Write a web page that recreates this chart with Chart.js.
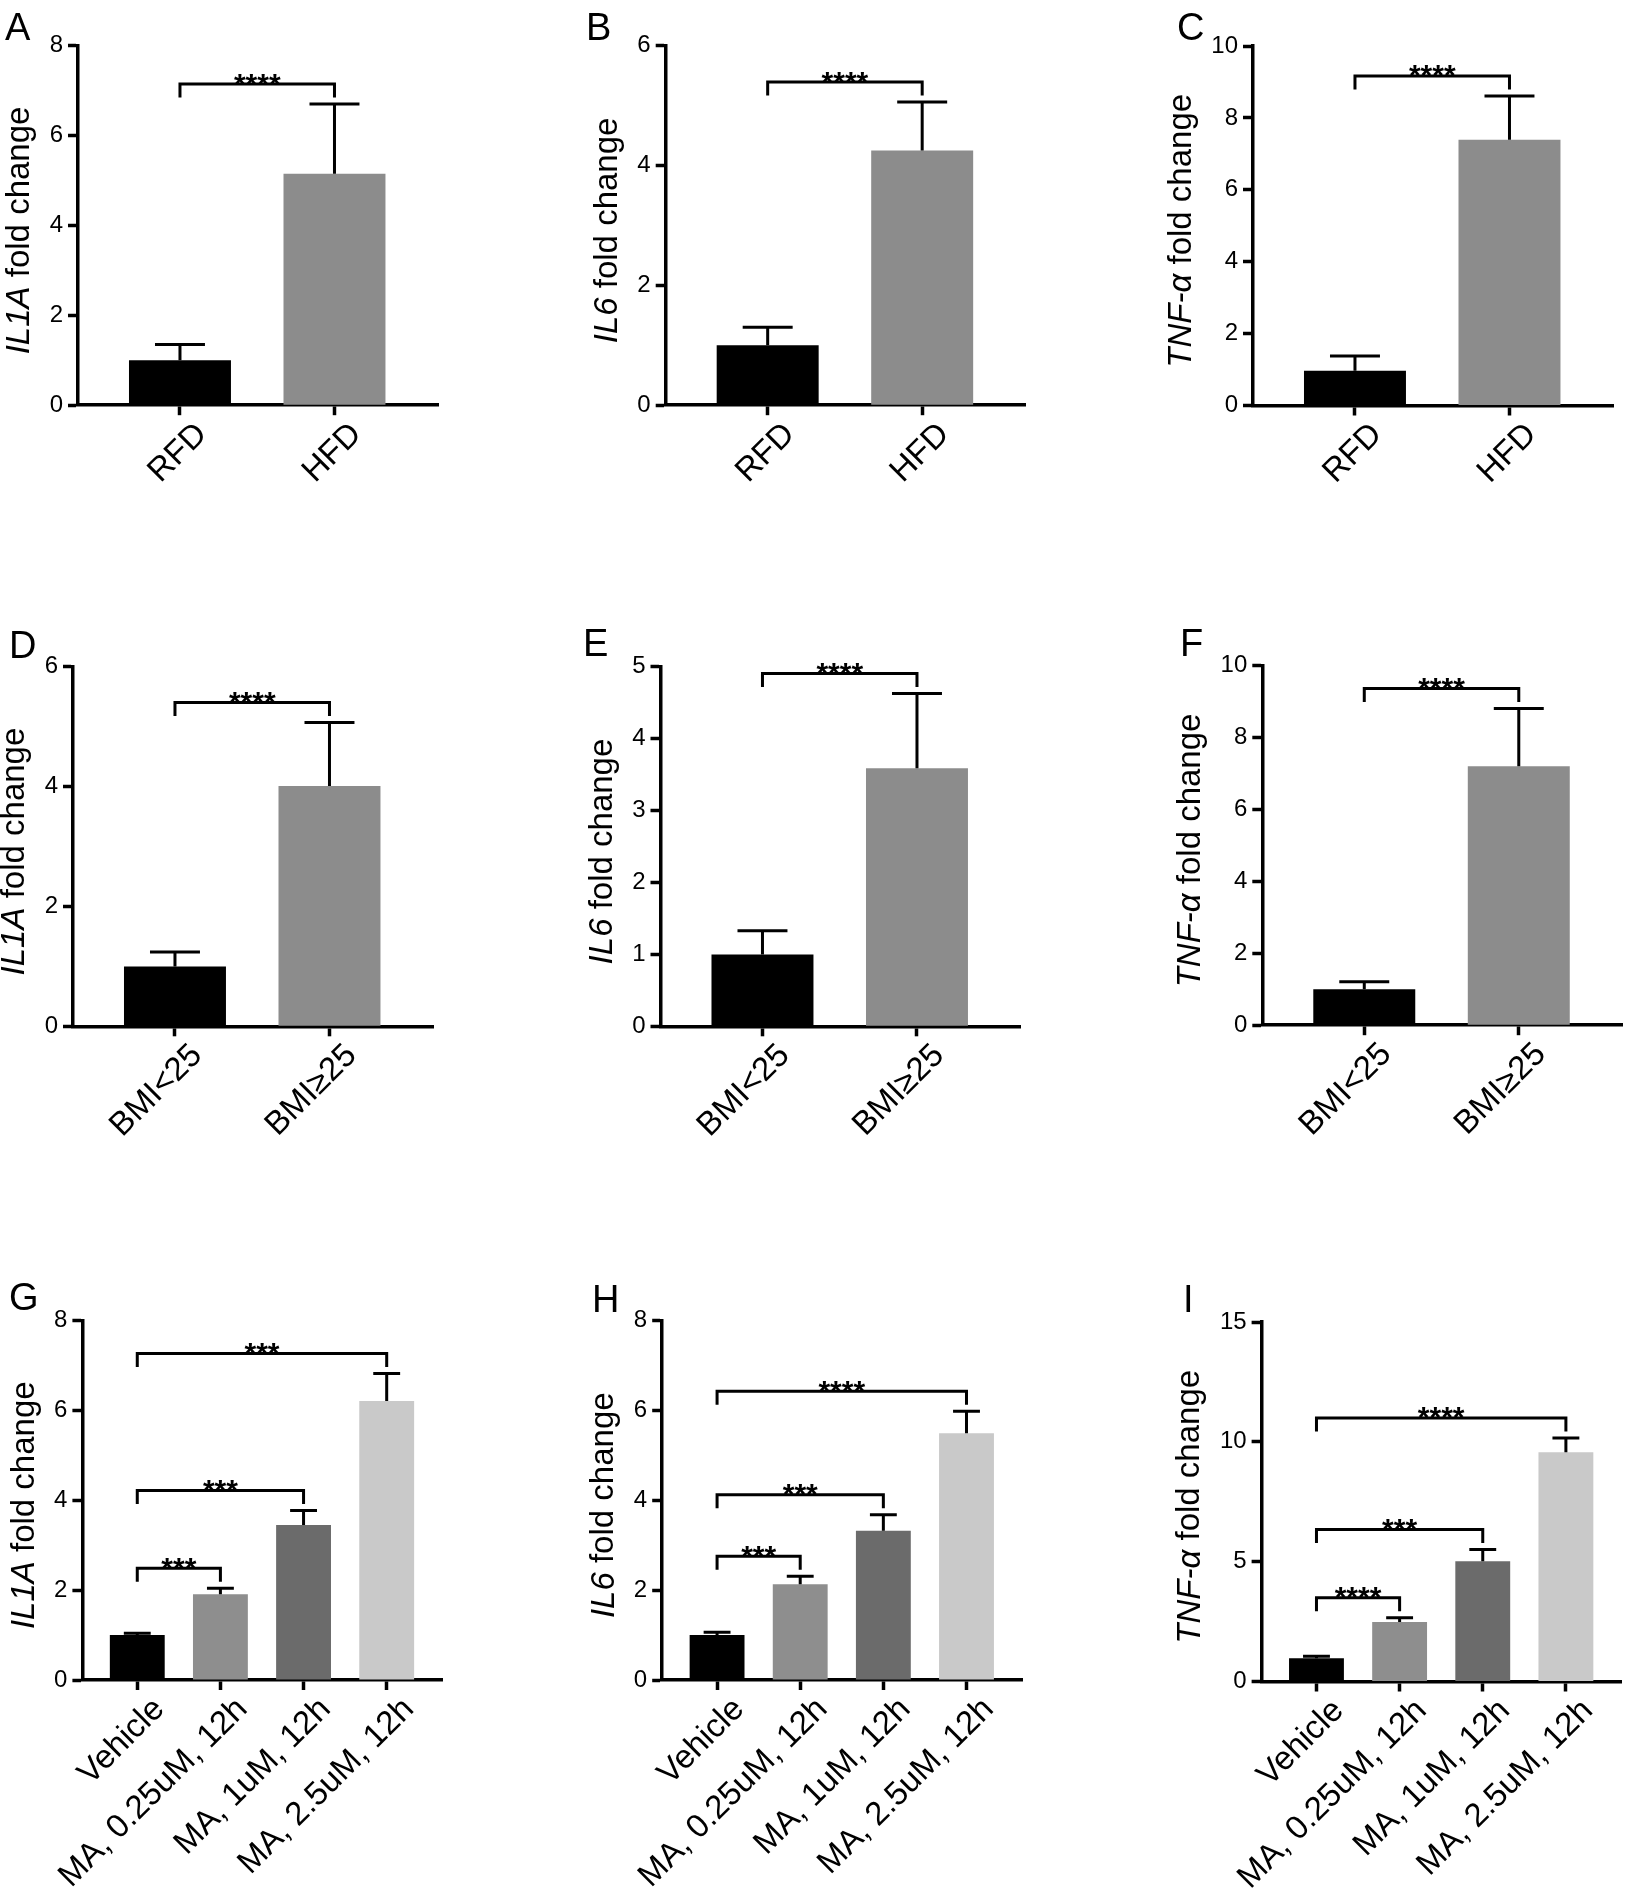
<!DOCTYPE html>
<html>
<head>
<meta charset="utf-8">
<script src="https://cdn.jsdelivr.net/npm/chart.js@4.4.1/dist/chart.umd.min.js"></script>
<style>
  html, body { margin: 0; padding: 0; background: #fff; }
  #wrap { position: relative; width: 1645px; height: 1892px; overflow: hidden; background: #fff; }
  #wrap canvas { position: absolute; }
</style>
</head>
<body>
<div id="wrap"></div>
<script>
// categories
const dietLabels = ['RFD', 'HFD'];
const bmiLabels = ['BMI<25', 'BMI\u226525'];
const maLabels = ['Vehicle', 'MA, 0.25uM, 12h', 'MA, 1uM, 12h', 'MA, 2.5uM, 12h'];

// means and upper error (SEM)
const il1aDiet = [1.0, 5.15];
const il1aDietErr = [0.35, 1.55];
const il6Diet = [1.0, 4.25];
const il6DietErr = [0.30, 0.81];
const tnfDiet = [0.97, 7.39];
const tnfDietErr = [0.41, 1.22];

const il1aBmi = [1.0, 4.01];
const il1aBmiErr = [0.24, 1.06];
const il6Bmi = [1.0, 3.59];
const il6BmiErr = [0.33, 1.04];
const tnfBmi = [1.0, 7.2];
const tnfBmiErr = [0.21, 1.61];

const il1aMa = [1.0, 1.91, 3.45, 6.21];
const il1aMaErr = [0.04, 0.13, 0.32, 0.61];
const il6Ma = [1.0, 2.13, 3.32, 5.49];
const il6MaErr = [0.06, 0.18, 0.36, 0.49];
const tnfMa = [0.97, 2.48, 5.02, 9.57];
const tnfMaErr = [0.08, 0.18, 0.49, 0.59];

// y tick labels
const ticks8 = [0, 2, 4, 6, 8];
const ticks6 = [0, 2, 4, 6];
const ticks10 = [0, 2, 4, 6, 8, 10];
const ticks5 = [0, 1, 2, 3, 4, 5];
const ticks15 = [0, 5, 10, 15];

// significance brackets: [from, to, stars]
const sigTwo = [[0, 1, '****']];
const sigG = [[0, 1, '***'], [0, 2, '***'], [0, 3, '***']];
const sigH = [[0, 1, '***'], [0, 2, '***'], [0, 3, '****']];
const sigI = [[0, 1, '****'], [0, 2, '***'], [0, 3, '****']];

const twoColors = ['#000000', '#8c8c8c'];
const maColors = ['#000000', '#8e8e8e', '#6b6b6b', '#c9c9c9'];

const FONT = "'Liberation Sans', Arial, Helvetica, sans-serif";
Chart.defaults.font.family = FONT;
Chart.defaults.color = '#000';

const colLeft = [0, 548, 1096], colRight = [548, 1096, 1645];
const rowTop = [0, 620, 1260], rowBottom = [620, 1260, 1892];
const PLOT_W = 360, PLOT_H = 359.5;
const LINE = 3.5;
const TICK_SIZE = 24, LABEL_SIZE = 33, TITLE_SIZE = 33;

const panels = [
  { id: 'A', gene: 'IL1A', labels: dietLabels, values: il1aDiet, errs: il1aDietErr, yTicks: ticks8, sig: sigTwo, colors: twoColors,
    col: 0, row: 0, axisX: 78, top: 45.7, letter: [5, 40] },
  { id: 'B', gene: 'IL6', labels: dietLabels, values: il6Diet, errs: il6DietErr, yTicks: ticks6, sig: sigTwo, colors: twoColors,
    col: 1, row: 0, axisX: 665.7, top: 45.7, letter: [586, 40] },
  { id: 'C', gene: 'TNF-\u03b1', labels: dietLabels, values: tnfDiet, errs: tnfDietErr, yTicks: ticks10, sig: sigTwo, colors: twoColors,
    col: 2, row: 0, axisX: 1253, top: 46, letter: [1177, 40] },
  { id: 'D', gene: 'IL1A', labels: bmiLabels, values: il1aBmi, errs: il1aBmiErr, yTicks: ticks6, sig: sigTwo, colors: twoColors,
    col: 0, row: 1, axisX: 73, top: 666.8, letter: [9, 658] },
  { id: 'E', gene: 'IL6', labels: bmiLabels, values: il6Bmi, errs: il6BmiErr, yTicks: ticks5, sig: sigTwo, colors: twoColors,
    col: 1, row: 1, axisX: 660.5, top: 666.8, letter: [583, 656] },
  { id: 'F', gene: 'TNF-\u03b1', labels: bmiLabels, values: tnfBmi, errs: tnfBmiErr, yTicks: ticks10, sig: sigTwo, colors: twoColors,
    col: 2, row: 1, axisX: 1262.3, top: 665.7, letter: [1180, 656] },
  { id: 'G', gene: 'IL1A', labels: maLabels, values: il1aMa, errs: il1aMaErr, yTicks: ticks8, sig: sigG, colors: maColors,
    col: 0, row: 2, axisX: 82.4, top: 1320.5, letter: [9, 1310] },
  { id: 'H', gene: 'IL6', labels: maLabels, values: il6Ma, errs: il6MaErr, yTicks: ticks8, sig: sigH, colors: maColors,
    col: 1, row: 2, axisX: 662.2, top: 1320.5, letter: [592, 1312] },
  { id: 'I', gene: 'TNF-\u03b1', labels: maLabels, values: tnfMa, errs: tnfMaErr, yTicks: ticks15, sig: sigI, colors: maColors,
    col: 2, row: 2, axisX: 1261.6, top: 1322, letter: [1183, 1312] },
];

// error bars, brackets, axis title and panel letter
const annotate = (p, canvasLeft, canvasTop) => ({
  id: 'annotate',
  afterDatasetsDraw(chart) {
    const ctx = chart.ctx, xs = chart.scales.x, ys = chart.scales.y;
    const meta = chart.getDatasetMeta(0);
    ctx.save();
    ctx.strokeStyle = '#000';
    ctx.lineWidth = 3;
    meta.data.forEach((bar, i) => {
      const top = ys.getPixelForValue(p.values[i]);
      const tip = ys.getPixelForValue(p.values[i] + p.errs[i]);
      const half = bar.width * 0.245;
      ctx.beginPath();
      ctx.moveTo(bar.x, top);
      ctx.lineTo(bar.x, tip);
      ctx.moveTo(bar.x - half, tip);
      ctx.lineTo(bar.x + half, tip);
      ctx.stroke();
    });
    ctx.fillStyle = '#000';
    ctx.font = 'bold 30px ' + FONT;
    ctx.textAlign = 'center';
    ctx.textBaseline = 'alphabetic';
    p.sig.forEach(([a, b, stars]) => {
      let tip = Infinity;
      for (let i = a; i <= b; i++) tip = Math.min(tip, ys.getPixelForValue(p.values[i] + p.errs[i]));
      const yb = tip - 20;
      const xa = xs.getPixelForValue(a), xb = xs.getPixelForValue(b);
      ctx.beginPath();
      ctx.moveTo(xa, yb + 13.5);
      ctx.lineTo(xa, yb);
      ctx.lineTo(xb, yb);
      ctx.lineTo(xb, yb + 13.5);
      ctx.stroke();
      ctx.fillText(stars, (xa + xb) / 2, yb + 9.5);
    });
    ctx.restore();
  },
  afterDraw(chart) {
    const ctx = chart.ctx, area = chart.chartArea;
    ctx.save();
    ctx.fillStyle = '#000';
    ctx.font = TICK_SIZE + 'px ' + FONT;
    const maxW = Math.max(...p.yTicks.map(v => ctx.measureText(String(v)).width));
    const cx = area.left - 10 - 5 - maxW - 13 - TITLE_SIZE / 2;
    const cy = (area.top + area.bottom) / 2 + 5;
    ctx.translate(cx, cy);
    ctx.rotate(-Math.PI / 2);
    ctx.textBaseline = 'middle';
    ctx.textAlign = 'left';
    const italic = 'italic ' + TITLE_SIZE + 'px ' + FONT, plain = TITLE_SIZE + 'px ' + FONT;
    const rest = ' fold change';
    ctx.font = italic;
    const w1 = ctx.measureText(p.gene).width;
    ctx.font = plain;
    const w2 = ctx.measureText(rest).width;
    const start = -(w1 + w2) / 2;
    ctx.font = italic;
    ctx.fillText(p.gene, start, 0);
    ctx.font = plain;
    ctx.fillText(rest, start + w1, 0);
    ctx.restore();

    ctx.save();
    ctx.fillStyle = '#000';
    ctx.font = '38px ' + FONT;
    ctx.textAlign = 'left';
    ctx.textBaseline = 'alphabetic';
    ctx.fillText(p.id, p.letter[0] - canvasLeft, p.letter[1] - canvasTop);
    ctx.restore();
  }
});

const wrap = document.getElementById('wrap');

panels.forEach(p => {
  const left = colLeft[p.col], top = rowTop[p.row];
  const w = colRight[p.col] - left, h = rowBottom[p.row] - top;
  const canvas = document.createElement('canvas');
  canvas.width = w;
  canvas.height = h;
  canvas.style.left = left + 'px';
  canvas.style.top = top + 'px';
  canvas.style.width = w + 'px';
  canvas.style.height = h + 'px';
  wrap.appendChild(canvas);

  const yWidth = p.axisX - left;
  const padTop = p.top - top;
  const padRight = w - (yWidth + PLOT_W);
  const xHeight = h - (padTop + PLOT_H);
  const n = p.labels.length;

  new Chart(canvas, {
    type: 'bar',
    data: {
      datasets: [{
        data: p.values.map((v, i) => ({ x: i, y: v })),
        backgroundColor: p.colors,
        borderWidth: 0,
        categoryPercentage: 1,
        barPercentage: 0.66
      }]
    },
    options: {
      responsive: false,
      devicePixelRatio: 1,
      animation: false,
      layout: { padding: { left: 0, top: padTop, right: padRight, bottom: 0 }, autoPadding: false },
      plugins: { legend: { display: false }, tooltip: { enabled: false } },
      scales: {
        x: {
          type: 'linear',
          bounds: 'data',
          offset: false,
          min: -0.66,
          max: n - 1 + 0.67,
          z: 1,
          afterBuildTicks: s => { s.ticks = p.labels.map((_, i) => ({ value: i })); },
          afterFit: s => { s.height = xHeight; s.paddingLeft = 0; s.paddingRight = 0; },
          border: { display: true, color: '#000', width: LINE },
          grid: { display: true, offset: false, drawOnChartArea: false, drawTicks: true, tickLength: 10, tickWidth: LINE, tickColor: '#000' },
          ticks: {
            autoSkip: false, minRotation: 45, maxRotation: 45, labelOffset: 22, padding: 0,
            color: '#000', font: { size: LABEL_SIZE },
            callback: v => p.labels[v]
          }
        },
        y: {
          min: 0,
          max: p.yTicks[p.yTicks.length - 1],
          z: 1,
          afterBuildTicks: s => { s.ticks = p.yTicks.map(v => ({ value: v })); },
          afterFit: s => { s.width = yWidth; },
          border: { display: true, color: '#000', width: LINE },
          grid: { display: true, drawOnChartArea: false, drawTicks: true, tickLength: 10, tickWidth: LINE, tickColor: '#000' },
          ticks: { color: '#000', font: { size: TICK_SIZE }, padding: 5 }
        }
      }
    },
    plugins: [annotate(p, left, top)]
  });
});
</script>
</body>
</html>
